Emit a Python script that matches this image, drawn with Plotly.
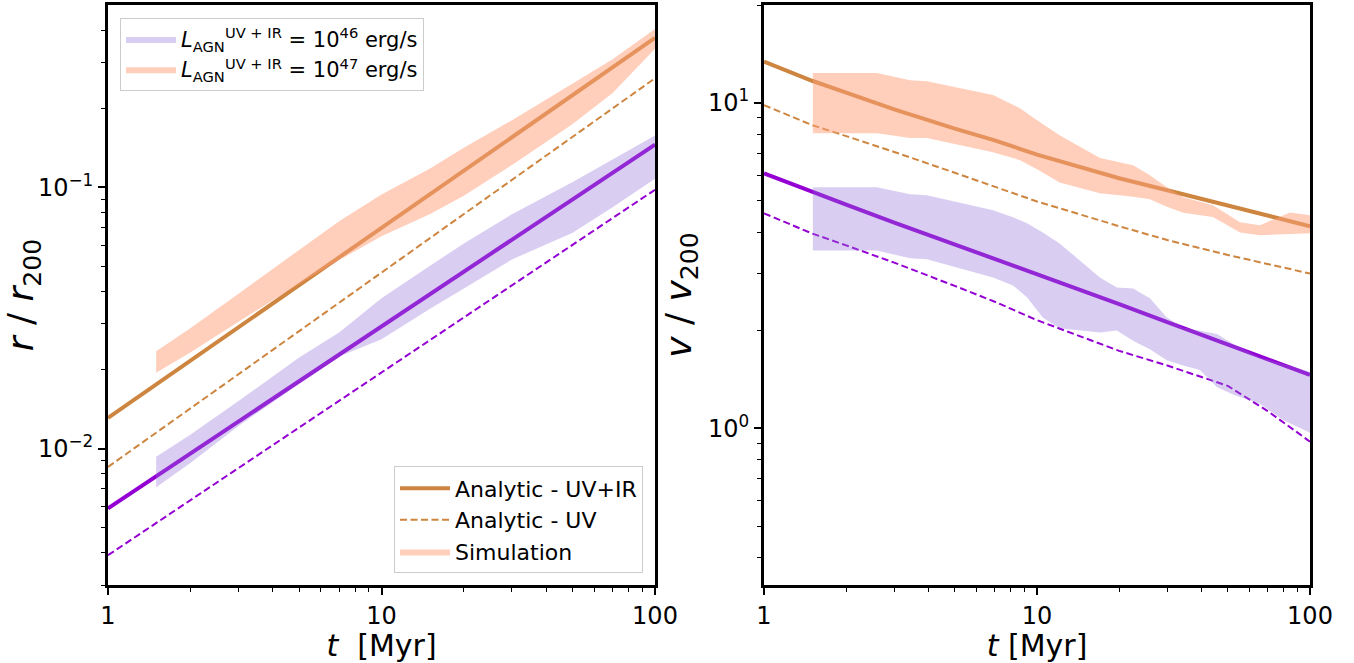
import math
import plotly.graph_objects as go
from plotly.subplots import make_subplots

# ---------------- data ----------------
# left panel: r / r200 analytic curves (straight on log-log)
t_line_left = [1, 10, 100]
r_uvir_47 = [0.0131, 0.070, 0.374]
r_uv_47 = [0.0085, 0.0472, 0.262]
r_uvir_46 = [0.0059, 0.0293, 0.146]
r_uv_46 = [0.0039, 0.0196, 0.098]

# simulation bands (left panel)
t_band = [1.5, 2, 3, 5, 7, 10, 15, 20, 30, 50, 70, 100]
r_sim47_hi = [0.0236, 0.0289, 0.0392, 0.0577, 0.0743, 0.094, 0.118, 0.142, 0.181, 0.250, 0.31, 0.405]
r_sim47_lo = [0.0195, 0.0233, 0.0306, 0.0427, 0.0527, 0.065, 0.079, 0.093, 0.122, 0.175, 0.23, 0.34]
r_sim46_hi = [0.0093, 0.0113, 0.0152, 0.0223, 0.0278, 0.0376, 0.0500, 0.0610, 0.079, 0.105, 0.128, 0.158]
r_sim46_lo = [0.0071, 0.0088, 0.0122, 0.0177, 0.0225, 0.0262, 0.0342, 0.041, 0.053, 0.067, 0.084, 0.108]

# right panel: v / v200 analytic curves
t_line_right = [1, 1.5, 2, 3, 5, 7, 10, 20, 30, 50, 70, 100]
v_uvir_47 = [13.4, 11.7, 10.76, 9.55, 8.34, 7.67, 6.94, 5.87, 5.39, 4.84, 4.51, 4.18]
v_uv_47 = [9.85, 8.55, 7.91, 7.07, 6.10, 5.53, 4.98, 4.18, 3.79, 3.41, 3.20, 2.99]
v_uvir_46 = [6.08, 5.32, 4.87, 4.29, 3.68, 3.32, 2.98, 2.41, 2.12, 1.81, 1.63, 1.46]
v_uv_46 = [4.58, 3.97, 3.65, 3.23, 2.74, 2.45, 2.15, 1.73, 1.56, 1.35, 1.13, 0.91]

# simulation bands (right panel)
t_vsim47 = [1.51, 2.59, 3.43, 3.95, 6.90, 8.66, 10.0, 12.1, 17.0, 22.5, 25.9, 29.9, 34.3, 44.1, 55.4, 65.6, 84.5, 100]
v_sim47_hi = [12.36, 12.36, 11.75, 11.66, 10.57, 9.64, 8.85, 7.96, 6.77, 6.44, 6.00, 5.51, 5.13, 4.85, 4.30, 4.21, 4.61, 4.52]
v_sim47_lo = [8.07, 8.07, 7.80, 7.80, 7.06, 6.67, 6.25, 5.70, 5.28, 5.15, 5.06, 4.80, 4.60, 4.46, 4.00, 3.92, 3.95, 3.98]
t_vsim46 = [1.51, 2.59, 3.43, 3.95, 6.90, 8.17, 9.19, 10.5, 12.1, 17.0, 19.6, 22.5, 25.9, 29.9, 34.3, 39.5, 45.6, 52.2, 65.6, 79.7, 100]
v_sim46_hi = [5.51, 5.51, 5.24, 5.20, 4.68, 4.45, 4.27, 4.00, 3.70, 2.91, 2.71, 2.69, 2.51, 2.19, 2.04, 2.00, 1.95, 1.82, 1.65, 1.58, 1.49]
v_sim46_lo = [3.52, 3.52, 3.33, 3.31, 2.91, 2.75, 2.53, 2.19, 2.03, 1.97, 2.00, 1.86, 1.75, 1.62, 1.56, 1.51, 1.34, 1.27, 1.19, 1.06, 0.97]

x_ticks = [1, 10, 100]
x_ticklabels = ["1", "10", "100"]
x_minor = [2, 3, 4, 5, 6, 7, 8, 9, 20, 30, 40, 50, 60, 70, 80, 90]
r_ticks = [0.01, 0.1]
r_ticklabels = ["10<sup>\u22122</sup>", "10<sup>\u22121</sup>"]
r_minor = [0.003, 0.004, 0.005, 0.006, 0.007, 0.008, 0.009, 0.02, 0.03, 0.04, 0.05, 0.06, 0.07, 0.08, 0.09, 0.2, 0.3, 0.4]
v_ticks = [1, 10]
v_ticklabels = ["10<sup>0</sup>", "10<sup>1</sup>"]
v_minor = [0.4, 0.5, 0.6, 0.7, 0.8, 0.9, 2, 3, 4, 5, 6, 7, 8, 9, 20]

leg46 = "<i>L</i><sub>AGN</sub><sup>UV + IR</sup> = 10<sup>46</sup> erg/s"
leg47 = "<i>L</i><sub>AGN</sub><sup>UV + IR</sup> = 10<sup>47</sup> erg/s"

# ---------------- styles ----------------
PERU = "#CD853F"
VIOLET = "#9400D3"
SALMON_FILL = "rgba(255,160,122,0.5)"
PURPLE_FILL = "rgba(147,112,219,0.35)"
DASH = "7px,3.5px"
FONT = "DejaVu Sans"

fig = make_subplots(rows=1, cols=2)


def band(t, hi, lo, color, row, col, **kw):
    fig.add_trace(go.Scatter(x=list(t) + list(t)[::-1], y=list(hi) + list(lo)[::-1],
                             fill="toself", fillcolor=color, mode="lines",
                             line=dict(width=0, color=color), hoverinfo="skip", **kw),
                  row=row, col=col)


# left panel lines
fig.add_trace(go.Scatter(x=t_line_left, y=r_uvir_47, mode="lines", line=dict(color=PERU, width=4),
                         name="Analytic - UV+IR", legend="legend2", legendrank=1, legendgroup="a"), row=1, col=1)
fig.add_trace(go.Scatter(x=t_line_left, y=r_uv_47, mode="lines", line=dict(color=PERU, width=2, dash=DASH),
                         name="Analytic - UV", legend="legend2", legendrank=2, legendgroup="b"), row=1, col=1)
fig.add_trace(go.Scatter(x=t_line_left, y=r_uvir_46, mode="lines", line=dict(color=VIOLET, width=4),
                         showlegend=False), row=1, col=1)
fig.add_trace(go.Scatter(x=t_line_left, y=r_uv_46, mode="lines", line=dict(color=VIOLET, width=2, dash=DASH),
                         showlegend=False), row=1, col=1)
band(t_band, r_sim47_hi, r_sim47_lo, SALMON_FILL, 1, 1, name="Simulation", legend="legend2",
     legendrank=3, legendgroup="c")
band(t_band, r_sim46_hi, r_sim46_lo, PURPLE_FILL, 1, 1, showlegend=False)

# right panel lines
fig.add_trace(go.Scatter(x=t_line_right, y=v_uvir_47, mode="lines", line=dict(color=PERU, width=4),
                         showlegend=False), row=1, col=2)
fig.add_trace(go.Scatter(x=t_line_right, y=v_uv_47, mode="lines", line=dict(color=PERU, width=2, dash=DASH),
                         showlegend=False), row=1, col=2)
fig.add_trace(go.Scatter(x=t_line_right, y=v_uvir_46, mode="lines", line=dict(color=VIOLET, width=4),
                         showlegend=False), row=1, col=2)
fig.add_trace(go.Scatter(x=t_line_right, y=v_uv_46, mode="lines", line=dict(color=VIOLET, width=2, dash=DASH),
                         showlegend=False), row=1, col=2)
band(t_vsim46, v_sim46_hi, v_sim46_lo, PURPLE_FILL, 1, 2, name=leg46, legend="legend",
     legendrank=1, legendgroup="d")
band(t_vsim47, v_sim47_hi, v_sim47_lo, SALMON_FILL, 1, 2, name=leg47, legend="legend",
     legendrank=2, legendgroup="e")

axis_common = dict(type="log", showline=True, mirror=True, linewidth=3, linecolor="black",
                   ticks="outside", ticklen=7, tickwidth=1.5, tickcolor="black", automargin=False,
                   showgrid=False, zeroline=False, tickfont=dict(size=24, family=FONT, color="black"))

fig.update_xaxes(**axis_common, range=[0, 2], tickvals=x_ticks, ticktext=x_ticklabels,
                 minor=dict(tickvals=x_minor, ticks="outside", ticklen=4, tickwidth=1, tickcolor="black"))
fig.update_xaxes(domain=[108 / 1354, 655 / 1354], row=1, col=1,
                 title=dict(text="<i>t</i>  [Myr]", font=dict(size=30, family=FONT, color="black"), standoff=5))
fig.update_xaxes(domain=[764 / 1354, 1310 / 1354], row=1, col=2,
                 title=dict(text="<i>t</i> [Myr]", font=dict(size=30, family=FONT, color="black"), standoff=5))

fig.update_yaxes(**axis_common, row=1, col=1, range=[math.log10(0.003), math.log10(0.5)],
                 tickvals=r_ticks, ticktext=r_ticklabels,
                 minor=dict(tickvals=r_minor, ticks="outside", ticklen=4, tickwidth=1, tickcolor="black"),
                 title=dict(text="<i>r</i> / <i>r</i><sub>200</sub>", font=dict(size=36, family=FONT, color="black"), standoff=6))
fig.update_yaxes(**axis_common, row=1, col=2, range=[math.log10(0.33), math.log10(20)],
                 tickvals=v_ticks, ticktext=v_ticklabels,
                 minor=dict(tickvals=v_minor, ticks="outside", ticklen=4, tickwidth=1, tickcolor="black"),
                 title=dict(text="<i>v</i> / <i>v</i><sub>200</sub>", font=dict(size=36, family=FONT, color="black"), standoff=6))

legend_style = dict(bgcolor="white", bordercolor="#CCCCCC", borderwidth=1, itemwidth=50,
                    traceorder="normal")
fig.update_layout(
    width=1354, height=663,
    margin=dict(l=0, r=0, t=5, b=78, autoexpand=False),
    plot_bgcolor="white", paper_bgcolor="white",
    font=dict(family=FONT, color="black"),
    legend=dict(**legend_style, font=dict(size=21, family=FONT, color="black"), tracegroupgap=8,
                x=120 / 1354, y=0.978, xanchor="left", yanchor="top"),
    legend2=dict(**legend_style, font=dict(size=22, family=FONT, color="black"), tracegroupgap=2,
                 x=643 / 1354, y=0.02, xanchor="right", yanchor="bottom"),
)

fig.write_html("out.html")
